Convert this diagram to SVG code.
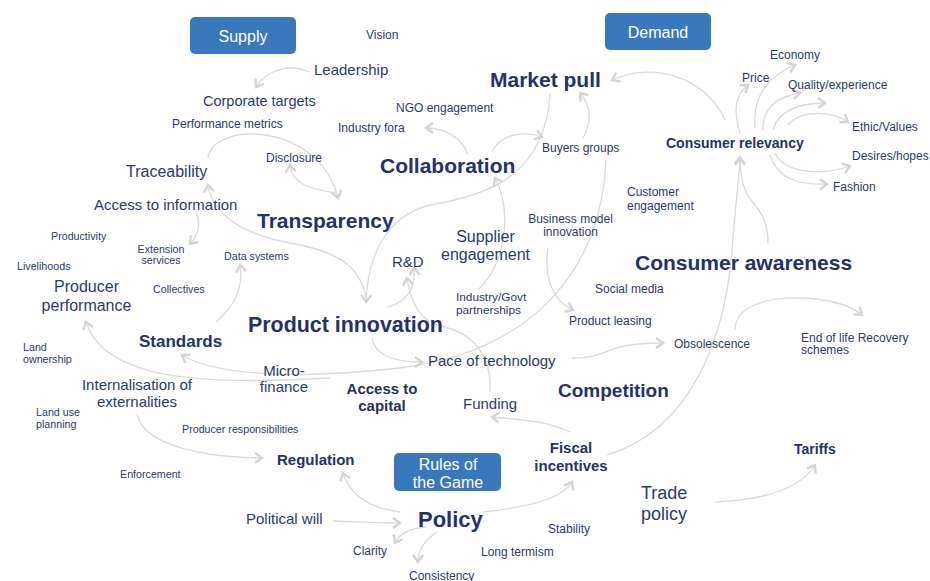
<svg xmlns="http://www.w3.org/2000/svg" width="930" height="581" viewBox="0 0 930 581">
<defs>
<marker id="ah" markerUnits="userSpaceOnUse" markerWidth="14" markerHeight="14" viewBox="0 0 14 14" refX="11" refY="7" orient="auto">
<path d="M4,2 L11,7 L4,12" fill="none" stroke="#D4D4D4" stroke-width="2.4" stroke-linejoin="miter"/>
</marker>
</defs>
<style>
text{font-family:"Liberation Sans",Arial,sans-serif;fill:#2B3A72;}
.b{font-weight:bold;fill:#243268;}
.s{font-size:10.7px;}
.m{font-size:12px;}
.l{font-size:15px;}
.xl{font-size:16px;}
.h{font-size:21px;}
.w{fill:#FFFFFF;font-size:16px;}
.box{fill:#3A78BE;}
.c path{fill:none;stroke:#DADADA;stroke-width:1.3;}
.a{marker-end:url(#ah);}
</style>
<rect width="930" height="581" fill="#FFFFFF"/>

<g class="c" id="connectors">
<path class="a" d="M309,72 C292,64 268,68 256,87"/>
<path class="a" d="M208,158 C212,122 318,120 338,198"/>
<path class="a" d="M337,193 C312,190 292,184 290,165"/>
<path class="a" d="M366,298 C360,262 330,250 290,243 C245,235 212,215 208,185"/>
<path class="a" d="M550,94 C545,175 490,195 430,205 C390,215 368,250 366,302"/>
<path class="a" d="M197,213 C201,228 197,236 190,244"/>
<path class="a" d="M216,322 C233,307 244,290 240,265"/>
<path class="a" d="M606,160 C600,290 510,355 400,368 C310,378 220,378 182,355"/>
<path class="a" d="M330,378 C210,385 105,382 86,322"/>
<path class="a" d="M468,155 C462,138 446,128 426,128"/>
<path class="a" d="M492,152 C500,135 522,130 542,137"/>
<path class="a" d="M583,138 C593,120 590,105 580,93"/>
<path class="a" d="M478,290 C505,265 513,212 495,178"/>
<path class="a" d="M725,120 C705,75 650,62 612,80"/>
<path class="a" d="M740,133 C733,110 735,95 748,85"/>
<path class="a" d="M755,128 C752,95 770,75 795,65"/>
<path class="a" d="M763,130 C762,110 775,97 800,93"/>
<path class="a" d="M773,130 C778,113 795,103 825,103"/>
<path class="a" d="M788,125 C800,110 830,110 848,122"/>
<path class="a" d="M775,153 C785,175 825,175 850,166"/>
<path class="a" d="M770,155 C778,180 800,185 827,184"/>
<path class="a" d="M607,455 C690,430 725,340 732,250 C735,210 739,180 740,157"/>
<path class="a" d="M768,243 C768,212 752,205 746,192 C741,181 740,170 740,158"/>
<path class="a" d="M548,248 C543,280 555,302 573,310"/>
<path class="a" d="M572,358 C600,358 606,350 620,347 C635,343 650,343 663,343"/>
<path class="a" d="M372,338 C375,356 395,362 422,362"/>
<path class="a" d="M388,307 C405,302 416,290 414,268"/>
<path class="a" d="M490,392 C492,352 470,332 440,326 C418,320 410,300 407,278"/>
<path class="a" d="M570,432 C545,420 520,420 492,417"/>
<path class="a" d="M483,512 C522,508 562,500 572,482"/>
<path class="a" d="M400,512 C370,508 350,495 343,473"/>
<path class="a" d="M333,521 C360,522 380,523 400,523"/>
<path class="a" d="M427,527 C410,528 400,533 395,543"/>
<path class="a" d="M437,532 C425,540 418,550 418,562"/>
<path class="a" d="M137,415 C145,445 200,457 262,458"/>
<path class="a" d="M715,502 C760,500 800,490 815,465"/>
<path class="a" d="M735,330 C735,305 770,297 800,298 C830,299 850,305 862,315"/>
</g>

<g id="supply"><rect class="box" x="190" y="17" width="106" height="37" rx="5"/><text class="w" x="243" y="42" text-anchor="middle">Supply</text></g>
<g id="demand"><rect class="box" x="605" y="13" width="106" height="37" rx="5"/><text class="w" x="658" y="38" text-anchor="middle">Demand</text></g>
<g id="rules"><rect class="box" x="394" y="453" width="107" height="38" rx="5"/><text class="w" x="448" y="470" text-anchor="middle">Rules of</text><text class="w" x="448" y="488" text-anchor="middle">the Game</text></g>

<g id="vision"><text class="m" x="366" y="39">Vision</text></g>
<g id="leadership"><text class="l" x="314" y="75">Leadership</text></g>
<g id="corporate-targets"><text style="font-size:14.5px" x="203" y="106">Corporate targets</text></g>
<g id="performance-metrics"><text class="m" x="172" y="128">Performance metrics</text></g>
<g id="disclosure"><text class="m" x="266" y="161.5">Disclosure</text></g>
<g id="traceability"><text class="xl" x="126" y="176.5">Traceability</text></g>
<g id="access-info"><text class="l" x="94" y="210">Access to information</text></g>
<g id="transparency"><text class="b h" x="257" y="228">Transparency</text></g>
<g id="ngo"><text class="m" x="396" y="111.5">NGO engagement</text></g>
<g id="industry-fora"><text class="m" x="338" y="132">Industry fora</text></g>
<g id="market-pull"><text class="b h" x="490" y="86.5">Market pull</text></g>
<g id="collaboration"><text class="b h" x="380" y="173">Collaboration</text></g>
<g id="buyers"><text class="m" x="542" y="151.5">Buyers groups</text></g>
<g id="price"><text class="m" x="742" y="81.5">Price</text></g>
<g id="economy"><text class="m" x="770" y="58.5">Economy</text></g>
<g id="quality"><text class="m" x="788" y="88.5">Quality/experience</text></g>
<g id="ethic"><text class="m" x="852" y="131">Ethic/Values</text></g>
<g id="consumer-relevancy"><text class="b" style="font-size:14px" x="666" y="148">Consumer relevancy</text></g>
<g id="desires"><text class="m" x="852" y="160">Desires/hopes</text></g>
<g id="fashion"><text class="m" x="833" y="190.5">Fashion</text></g>
<g id="customer-engagement"><text class="m" x="627" y="196">Customer</text><text class="m" x="627" y="210">engagement</text></g>
<g id="business-model"><text class="m" x="570.5" y="222.5" text-anchor="middle">Business model</text><text class="m" x="570.5" y="236" text-anchor="middle">innovation</text></g>
<g id="supplier-engagement"><text class="xl" x="485.5" y="241.5" text-anchor="middle">Supplier</text><text class="xl" x="485.5" y="260" text-anchor="middle">engagement</text></g>
<g id="rd"><text class="l" x="392" y="266.5">R&amp;D</text></g>
<g id="productivity"><text class="s" x="51" y="240">Productivity</text></g>
<g id="extension"><text class="s" x="161" y="252.5" text-anchor="middle">Extension</text><text class="s" x="161" y="264" text-anchor="middle">services</text></g>
<g id="data-systems"><text class="s" x="224" y="260">Data systems</text></g>
<g id="livelihoods"><text class="s" x="17" y="270">Livelihoods</text></g>
<g id="producer-performance"><text class="xl" x="86.5" y="292" text-anchor="middle">Producer</text><text class="xl" x="86.5" y="310.5" text-anchor="middle">performance</text></g>
<g id="collectives"><text class="s" x="153" y="292.5">Collectives</text></g>
<g id="consumer-awareness"><text class="b h" x="635" y="270">Consumer awareness</text></g>
<g id="social-media"><text class="m" x="595" y="293">Social media</text></g>
<g id="industry-govt"><text class="m" x="456" y="301" style="font-size:11.8px">Industry/Govt</text><text class="m" x="456" y="314" style="font-size:11.8px">partnerships</text></g>
<g id="product-innovation"><text class="b" style="font-size:21.4px" x="248" y="331.5">Product innovation</text></g>
<g id="product-leasing"><text class="m" x="569" y="325">Product leasing</text></g>
<g id="standards"><text class="b" style="font-size:17px" x="139" y="346.5">Standards</text></g>
<g id="land-ownership"><text class="s" x="23" y="351">Land</text><text class="s" x="23" y="363">ownership</text></g>
<g id="obsolescence"><text class="m" x="674" y="347.5">Obsolescence</text></g>
<g id="end-of-life"><text class="m" x="801" y="341.5">End of life Recovery</text><text class="m" x="801" y="354">schemes</text></g>
<g id="micro-finance"><text class="l" x="284" y="375.5" text-anchor="middle">Micro-</text><text class="l" x="284" y="391.5" text-anchor="middle">finance</text></g>
<g id="pace"><text class="l" x="428" y="366">Pace of technology</text></g>
<g id="access-capital"><text class="b l" x="382" y="393.5" text-anchor="middle">Access to</text><text class="b l" x="382" y="411" text-anchor="middle">capital</text></g>
<g id="internalisation"><text class="l" x="137" y="390" text-anchor="middle">Internalisation of</text><text class="l" x="137" y="406.5" text-anchor="middle">externalities</text></g>
<g id="competition"><text class="b" style="font-size:19px" x="558" y="396.5">Competition</text></g>
<g id="land-use"><text class="s" x="36" y="416">Land use</text><text class="s" x="36" y="428">planning</text></g>
<g id="funding"><text class="l" x="463" y="408.5">Funding</text></g>
<g id="producer-responsibilities"><text class="s" x="182" y="432.5">Producer responsibilities</text></g>
<g id="fiscal"><text class="b l" x="571" y="452.5" text-anchor="middle">Fiscal</text><text class="b l" x="571" y="470.5" text-anchor="middle">incentives</text></g>
<g id="tariffs"><text class="b" style="font-size:14px" x="794" y="453.5">Tariffs</text></g>
<g id="regulation"><text class="b l" x="277" y="465">Regulation</text></g>
<g id="enforcement"><text class="s" x="120" y="477.5">Enforcement</text></g>
<g id="trade-policy"><text style="font-size:18px" x="641" y="499">Trade</text><text style="font-size:18px" x="641" y="520">policy</text></g>
<g id="political-will"><text class="l" x="246" y="524">Political will</text></g>
<g id="policy"><text class="b" style="font-size:22px" x="418" y="526.5">Policy</text></g>
<g id="stability"><text class="m" x="548" y="532.5">Stability</text></g>
<g id="clarity"><text class="m" x="353" y="554.5">Clarity</text></g>
<g id="long-termism"><text class="m" x="481" y="555.5">Long termism</text></g>
<g id="consistency"><text class="m" x="409" y="579.5">Consistency</text></g>
</svg>
